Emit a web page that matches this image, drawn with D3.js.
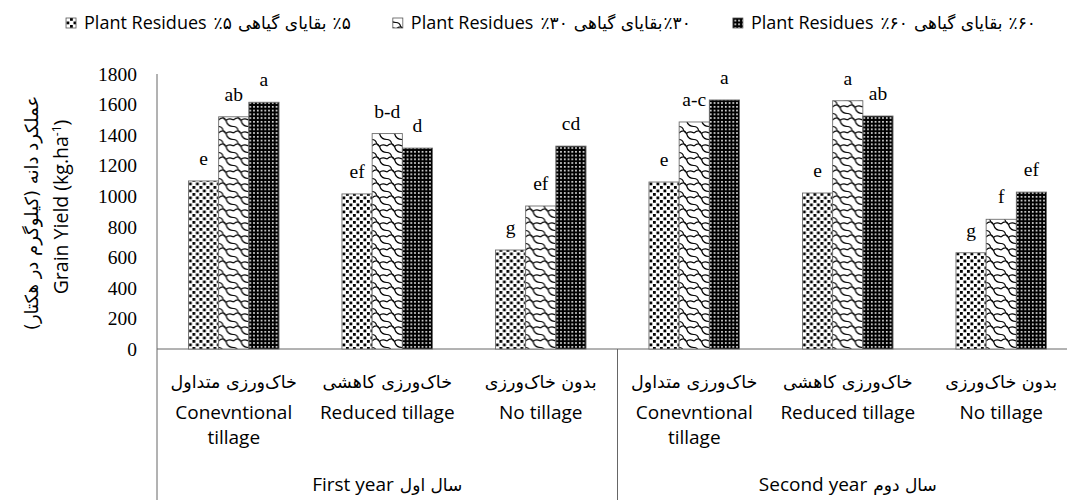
<!DOCTYPE html>
<html>
<head>
<meta charset="utf-8">
<script src="https://cdn.jsdelivr.net/npm/d3@7"></script>
<style>
  body { margin: 0; background: #fff; }
  svg { display: block; }
</style>
</head>
<body>
<div id="container"></div>
<script>
/* CONSTANTS AND GLOBALS */
const width = 1067,
  height = 500

const enFont = "'Open Sans', sans-serif",
  faFont = "'DejaVu Sans', sans-serif",
  numFont = "'Liberation Serif', 'Times New Roman', serif"

/* DATA */
const yearsEn = ["First year", "Second year"]
const yearsFa = ["سال اول", "سال دوم"]
const tillageEn = [["Conevntional", "tillage"], ["Reduced tillage"], ["No tillage"]]
const tillageFa = ["خاک‌ورزی متداول", "خاک‌ورزی کاهشی", "بدون خاک‌ورزی"]

const seriesKeys = ["r5", "r30", "r60"]
const seriesPct = ["٪۵", "٪۳۰", "٪۶۰"]

// order: year1 (conv, reduced, no), year2 (conv, reduced, no)
const residue5 = [1100, 1015, 648, 1093, 1021, 630]
const residue30 = [1520, 1410, 936, 1486, 1625, 849]
const residue60 = [1615, 1315, 1328, 1630, 1525, 1027]

const letters5 = ["e", "ef", "g", "e", "e", "g"]
const letters30 = ["ab", "b-d", "ef", "a-c", "a", "f"]
const letters60 = ["a", "d", "cd", "a", "ab", "ef"]

const yTicks = [0, 200, 400, 600, 800, 1000, 1200, 1400, 1600, 1800]

const values = { r5: residue5, r30: residue30, r60: residue60 }
const letters = { r5: letters5, r30: letters30, r60: letters60 }
const cats = d3.range(6)

/* SVG */
const svg = d3.select("#container")
  .append("svg")
  .attr("width", width)
  .attr("height", height)

// patterns
const defs = svg.append("defs")

const p5 = defs.append("pattern")
  .attr("id", "pat-r5")
  .attr("patternUnits", "userSpaceOnUse")
  .attr("width", 7).attr("height", 7)
p5.append("rect").attr("width", 7).attr("height", 7).attr("fill", "#fff")
p5.append("rect").attr("x", 0.5).attr("y", 0.5).attr("width", 2.8).attr("height", 2.8).attr("fill", "#000")
p5.append("rect").attr("x", 4).attr("y", 4).attr("width", 2.8).attr("height", 2.8).attr("fill", "#000")

const p30 = defs.append("pattern")
  .attr("id", "pat-r30")
  .attr("patternUnits", "userSpaceOnUse")
  .attr("width", 15).attr("height", 13)
p30.append("rect").attr("width", 15).attr("height", 13).attr("fill", "#fff")
p30.append("path")
  .attr("d", "M0,3 C3,0 6,0 7.5,3.5 C8.5,7 11,9.5 15,9.5 M7.5,3.5 C9.5,1.5 12,1.5 15,3 M0,9.5 C2.5,9.5 4,11 4.5,13 M4.5,0 C5,1 5.5,2 7.5,3.5")
  .attr("fill", "none")
  .attr("stroke", "#000")
  .attr("stroke-width", 1.2)

const p60 = defs.append("pattern")
  .attr("id", "pat-r60")
  .attr("patternUnits", "userSpaceOnUse")
  .attr("width", 3.75).attr("height", 3.75)
p60.append("rect").attr("width", 3.75).attr("height", 3.75).attr("fill", "#000")
p60.append("rect").attr("x", 1).attr("y", 1).attr("width", 1.6).attr("height", 1.6).attr("fill", "#fff")

/* SCALES */
const x0 = d3.scaleBand()
  .domain(cats)
  .range([157, 1078])
  .paddingInner(0.41)
  .paddingOuter(0.205)

const x1 = d3.scaleBand()
  .domain(seriesKeys)
  .range([0, x0.bandwidth()])

const yScale = d3.scaleLinear()
  .domain([0, 1800])
  .range([349, 74])

const step = x0.step()
const plotLeft = 157

/* AXES */
const yAxisGroup = svg.append("g")
  .attr("transform", `translate(${plotLeft}, 0)`)
  .call(d3.axisLeft(yScale).tickValues(yTicks).tickSize(0).tickPadding(20).tickFormat(d3.format("d")))
yAxisGroup.select(".domain").remove()
yAxisGroup.selectAll("text")
  .attr("font-family", numFont)
  .attr("font-size", 19.5)
  .attr("fill", "#000")

const axisColor = "#666"
// vertical axis line (extends down through category labels)
svg.append("line")
  .attr("x1", plotLeft).attr("x2", plotLeft)
  .attr("y1", yScale(1800)).attr("y2", height)
  .attr("stroke", axisColor)
// horizontal zero line
svg.append("line")
  .attr("x1", plotLeft).attr("x2", width)
  .attr("y1", yScale(0)).attr("y2", yScale(0))
  .attr("stroke", axisColor)
// year separator
svg.append("line")
  .attr("x1", plotLeft + 3 * step).attr("x2", plotLeft + 3 * step)
  .attr("y1", yScale(0)).attr("y2", height)
  .attr("stroke", axisColor)

/* BARS */
const groups = svg.selectAll(".cat")
  .data(cats)
  .join("g")
  .attr("class", "cat")
  .attr("transform", d => `translate(${x0(d)}, 0)`)

const barData = i => seriesKeys.map(k => ({ key: k, value: values[k][i], letter: letters[k][i] }))

groups.selectAll("rect")
  .data(barData)
  .join("rect")
  .attr("x", d => x1(d.key))
  .attr("y", d => yScale(d.value))
  .attr("width", x1.bandwidth())
  .attr("height", d => yScale(0) - yScale(d.value))
  .attr("fill", d => `url(#pat-${d.key})`)
  .attr("stroke", "#6e6e6e")
  .attr("stroke-width", 0.9)

groups.selectAll(".letter")
  .data(barData)
  .join("text")
  .attr("class", "letter")
  .attr("x", d => x1(d.key) + x1.bandwidth() / 2)
  .attr("y", d => yScale(d.value) - 16)
  .attr("text-anchor", "middle")
  .attr("font-family", numFont)
  .attr("font-size", 19.5)
  .text(d => d.letter)

/* CATEGORY LABELS */
cats.forEach(i => {
  const cx = x0(i) + x0.bandwidth() / 2
  const t = i % 3
  svg.append("text")
    .attr("x", cx).attr("y", 388)
    .attr("text-anchor", "middle")
    .attr("direction", "rtl")
    .attr("font-family", faFont)
    .attr("font-size", 17.5)
    .text(tillageFa[t])
  tillageEn[t].forEach((line, j) => {
    svg.append("text")
      .attr("x", cx).attr("y", 419 + j * 25)
      .attr("text-anchor", "middle")
      .attr("font-family", enFont)
      .attr("font-size", 19)
      .text(line)
  })
})

// year labels: English then Persian to its right
yearsEn.forEach((yr, i) => {
  const cx = plotLeft + (i * 3 + 1.5) * step
  const g = svg.append("g")
  const en = g.append("text")
    .attr("y", 491)
    .attr("font-family", enFont)
    .attr("font-size", 19)
    .text(yr)
  const fa = g.append("text")
    .attr("y", 491)
    .attr("font-family", faFont)
    .attr("font-size", 17)
    .text(yearsFa[i])
  const wEn = en.node().getComputedTextLength()
  const wFa = fa.node().getComputedTextLength()
  const start = cx - (wEn + 6 + wFa) / 2
  en.attr("x", start)
  fa.attr("x", start + wEn + 6)
})

/* Y TITLES */
svg.append("text")
  .attr("transform", "translate(38, 213) rotate(-90)")
  .attr("text-anchor", "middle")
  .attr("direction", "rtl")
  .attr("font-family", faFont)
  .attr("font-size", 18)
  .text("عملکرد دانه (کیلوگرم در هکتار)")

const yTitle = svg.append("text")
  .attr("transform", "translate(68, 207) rotate(-90)")
  .attr("text-anchor", "middle")
  .attr("font-family", enFont)
  .attr("font-size", 19.5)
yTitle.append("tspan").text("Grain Yield (kg.ha")
yTitle.append("tspan").attr("font-size", 12).attr("dy", -7).text("-1")
yTitle.append("tspan").attr("dy", 7).text(")")

/* LEGEND */
const legend = svg.append("g")
let cursor = 0
seriesKeys.forEach((k, i) => {
  if (i > 0) cursor += 42
  legend.append("rect")
    .attr("x", cursor).attr("y", 18)
    .attr("width", 10).attr("height", 10)
    .attr("fill", `url(#pat-${k})`)
    .attr("stroke", "#555")
    .attr("stroke-width", 0.8)
  cursor += 18
  const pieces = [
    { t: "Plant Residues", f: enFont, s: 18, gap: 7 },
    { t: seriesPct[i], f: faFont, s: 17, gap: 6 },
    { t: "بقایای گیاهی", f: faFont, s: 17, gap: i === 1 ? 1 : 6 },
    { t: seriesPct[i], f: faFont, s: 17, gap: 0 }
  ]
  pieces.forEach(p => {
    const el = legend.append("text")
      .attr("x", cursor).attr("y", 29)
      .attr("font-family", p.f)
      .attr("font-size", p.s)
      .text(p.t)
    cursor += el.node().getComputedTextLength() + p.gap
  })
})
legend.attr("transform", `translate(${551 - cursor / 2}, 0)`)
</script>
</body>
</html>
